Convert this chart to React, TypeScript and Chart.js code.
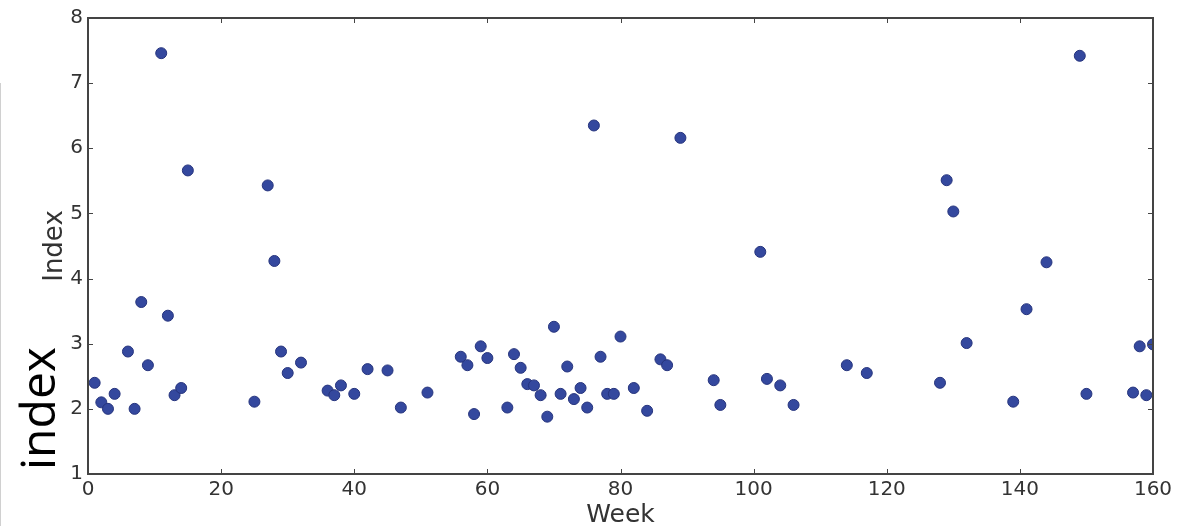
import React, { useEffect, useRef } from "react";
import { Chart, registerables } from "chart.js";

Chart.register(...registerables);

const weeks = [1, 2, 3, 4, 6, 7, 8, 9, 11, 12, 13, 14, 15, 25, 27, 28, 29, 30, 32, 36, 37, 38, 40, 42, 45, 47, 51, 56, 57, 58, 59, 60, 63, 64, 65, 66, 67, 68, 69, 70, 71, 72, 73, 74, 75, 76, 77, 78, 79, 80, 82, 84, 86, 87, 89, 94, 95, 101, 102, 104, 106, 114, 117, 128, 129, 130, 132, 139, 141, 144, 149, 150, 157, 158, 159, 160];
const indexValues = [2.40, 2.10, 2.00, 2.23, 2.88, 2.00, 3.64, 2.67, 7.46, 3.43, 2.21, 2.32, 5.66, 2.11, 5.43, 4.27, 2.88, 2.55, 2.71, 2.28, 2.21, 2.36, 2.23, 2.61, 2.59, 2.02, 2.25, 2.80, 2.67, 1.92, 2.96, 2.78, 2.02, 2.84, 2.63, 2.38, 2.36, 2.21, 1.88, 3.26, 2.23, 2.65, 2.15, 2.32, 2.02, 6.35, 2.80, 2.23, 2.23, 3.11, 2.32, 1.97, 2.76, 2.67, 6.16, 2.44, 2.06, 4.41, 2.46, 2.36, 2.06, 2.67, 2.55, 2.40, 5.51, 5.03, 3.01, 2.11, 3.53, 4.25, 7.42, 2.23, 2.25, 2.96, 2.21, 2.99];

const xTitle = "Week";
const yTitle = "Index";
const sideLabel = "index";

const TEXT = "#333333";
const AXIS = "#444444";
const FONT = "'DejaVu Sans', sans-serif";

const framePlugin = {
  id: "frame",
  afterDraw(chart: any) {
    const { ctx, chartArea } = chart;
    const { left, right, top, bottom } = chartArea;
    const xs = chart.scales.x;
    const ys = chart.scales.y;
    ctx.save();
    ctx.strokeStyle = AXIS;
    ctx.lineWidth = 1;
    const tl = 5;
    ctx.beginPath();
    xs.ticks.forEach((t: any) => {
      const px = Math.round(xs.getPixelForValue(t.value)) + 0.5;
      ctx.moveTo(px, bottom);
      ctx.lineTo(px, bottom - tl);
      ctx.moveTo(px, top);
      ctx.lineTo(px, top + tl);
    });
    ys.ticks.forEach((t: any) => {
      const py = Math.round(ys.getPixelForValue(t.value)) + 0.5;
      ctx.moveTo(left, py);
      ctx.lineTo(left + tl, py);
      ctx.moveTo(right, py);
      ctx.lineTo(right - tl, py);
    });
    ctx.stroke();
    ctx.lineWidth = 2;
    ctx.strokeRect(left, top, right - left, bottom - top);
    // faint edge line at far left
    ctx.strokeStyle = "#d0d0d0";
    ctx.lineWidth = 1;
    ctx.beginPath();
    ctx.moveTo(0.5, 83);
    ctx.lineTo(0.5, chart.height);
    ctx.stroke();
    // large side label
    ctx.fillStyle = "#000000";
    ctx.font = "48px 'Open Sans', sans-serif";
    ctx.textAlign = "left";
    ctx.textBaseline = "alphabetic";
    ctx.translate(55, 470);
    ctx.rotate(-Math.PI / 2);
    ctx.fillText(sideLabel, 0, 0);
    ctx.restore();
  },
};

export default function App() {
  const canvasRef = useRef<HTMLCanvasElement | null>(null);

  useEffect(() => {
    document.body.style.margin = "0";
    const canvas = canvasRef.current;
    if (!canvas) return;
    const data = weeks.map((w, i) => ({ x: w, y: indexValues[i] }));
    const chart = new Chart(canvas, {
      type: "scatter",
      data: {
        datasets: [
          {
            data,
            backgroundColor: "rgb(52,72,158)",
            borderColor: "rgb(38,52,125)",
            borderWidth: 1,
            pointRadius: 5.5,
            pointHoverRadius: 5.5,
            clip: 0,
          },
        ],
      },
      options: {
        animation: false,
        responsive: true,
        maintainAspectRatio: false,
        events: [],
        layout: { padding: { left: 0, right: 35, top: 18, bottom: 0 } },
        plugins: {
          legend: { display: false },
          tooltip: { enabled: false },
        },
        scales: {
          x: {
            type: "linear",
            min: 0,
            max: 160,
            grid: { display: false, drawTicks: false, tickLength: 0 },
            border: { display: false },
            ticks: {
              stepSize: 20,
              padding: 4,
              color: TEXT,
              font: { family: FONT, size: 20 },
              maxRotation: 0,
            },
            title: {
              display: true,
              text: xTitle,
              color: TEXT,
              font: { family: FONT, size: 25, lineHeight: 0.88 },
              padding: { top: 0, bottom: 0 },
            },
            afterFit(scale: any) {
              scale.height = 52;
            },
          },
          y: {
            type: "linear",
            min: 1,
            max: 8,
            grid: { display: false, drawTicks: false, tickLength: 0 },
            border: { display: false },
            ticks: {
              stepSize: 1,
              padding: 5,
              color: TEXT,
              font: { family: FONT, size: 20 },
            },
            title: {
              display: true,
              text: yTitle,
              color: TEXT,
              font: { family: FONT, size: 26, lineHeight: 1 },
              padding: { top: 42, bottom: 0 },
            },
            afterFit(scale: any) {
              scale.width = 88;
            },
          },
        },
      },
      plugins: [framePlugin],
    });
    return () => chart.destroy();
  }, []);

  return (
    <div style={{ position: "absolute", left: 0, top: 0, width: 1188, height: 526, background: "#ffffff" }}>
      <canvas ref={canvasRef} />
    </div>
  );
}
